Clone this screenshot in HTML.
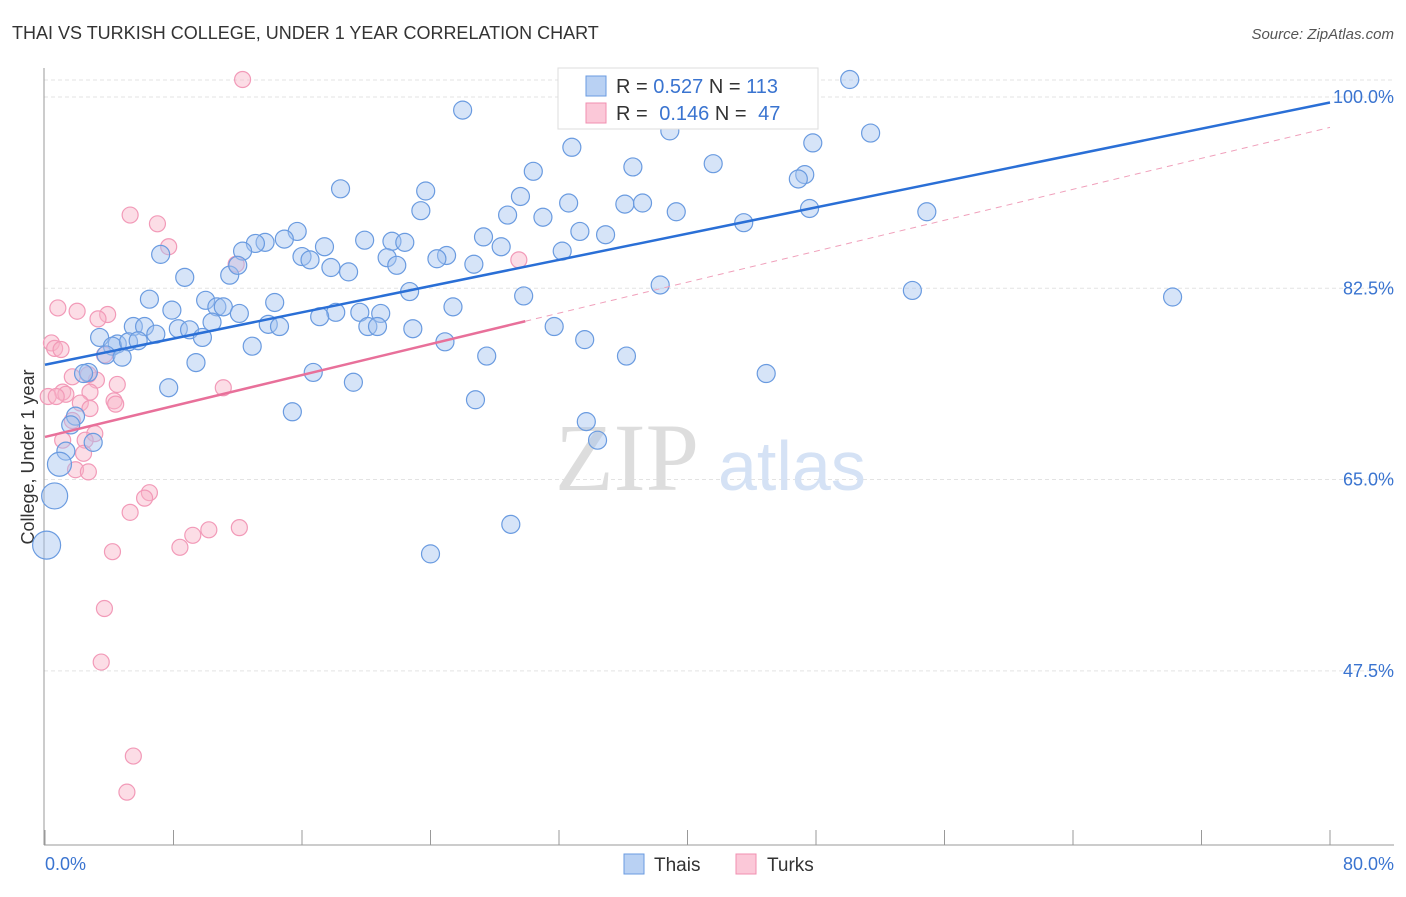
<!DOCTYPE html>
<html><head><meta charset="utf-8"><style>
body{margin:0;background:#fff;font-family:"Liberation Sans",sans-serif;}
</style></head><body>
<svg width="1406" height="892" xmlns="http://www.w3.org/2000/svg" style="font-family:'Liberation Sans',sans-serif">
<text x="12" y="39" font-size="18" fill="#333">THAI VS TURKISH COLLEGE, UNDER 1 YEAR CORRELATION CHART</text>
<text x="1394" y="39" font-size="15" fill="#555" font-style="italic" text-anchor="end">Source: ZipAtlas.com</text>
<g id="grid"></g>
<text x="555" y="490" font-size="96" fill="#ddd" font-family="Liberation Serif">ZIP</text>
<text x="718" y="490" font-size="70" fill="#d5e2f5">atlas</text>
<line x1="44" y1="68" x2="44" y2="845" stroke="#999"/>
<line x1="44" y1="845" x2="1394" y2="845" stroke="#999"/>
<g id="xticks"></g>
<g id="yticks"></g>
<text x="45" y="870" font-size="18" fill="#3a74d0">0.0%</text>
<text x="1394" y="870" font-size="18" fill="#3a74d0" text-anchor="end">80.0%</text>
<text transform="translate(34,457) rotate(-90)" font-size="18" fill="#333" text-anchor="middle">College, Under 1 year</text>
<g id="pink"></g>
<g id="blue"></g>
<g id="trends"></g>
<g>
<rect x="558" y="68" width="260" height="61" fill="#fff" stroke="#ddd"/>
<rect x="586" y="76" width="20" height="20" fill="#b9d1f3" stroke="#6a9be0"/>
<rect x="586" y="103" width="20" height="20" fill="#fbc8d8" stroke="#f08fb0"/>
<text x="616" y="93" font-size="20" fill="#333">R = <tspan fill="#3a74d0">0.527</tspan>   N = <tspan fill="#3a74d0">113</tspan></text>
<text x="616" y="120" font-size="20" fill="#333">R = <tspan fill="#3a74d0" dx="6">0.146</tspan>   N = <tspan fill="#3a74d0" dx="6">47</tspan></text>
</g>
<g>
<rect x="624" y="854" width="20" height="20" fill="#b9d1f3" stroke="#6a9be0"/>
<text x="654" y="871" font-size="19" fill="#333">Thais</text>
<rect x="736" y="854" width="20" height="20" fill="#fbc8d8" stroke="#f08fb0"/>
<text x="767" y="871" font-size="19" fill="#333">Turks</text>
</g>
</svg>
<script>
const yTicks=[100,82.5,65,47.5];
const yTickLabels=["100.0%","82.5%","65.0%","47.5%"];
const xTickVals=[0,8,16,24,32,40,48,56,64,72,80];
const blueX=[50.1,26.0,51.4,38.9,47.8,32.8,41.6,36.6,30.4,18.4,23.7,47.3,46.9,29.6,23.4,32.6,36.1,37.2,39.3,28.8,31.0,54.9,47.6,15.7,43.5,33.3,34.9,27.3,28.4,19.9,21.6,22.4,14.9,13.7,13.1,12.3,17.4,7.2,25.0,24.4,16.0,16.5,21.3,21.9,26.7,17.8,18.9,8.7,11.5,12.0,32.2,22.7,29.8,38.3,54.0,70.2,6.5,10.0,10.7,11.1,14.3,7.9,25.4,12.1,18.1,19.6,20.9,17.1,10.4,5.5,6.2,8.3,9.0,13.9,14.6,20.1,20.7,22.9,31.7,3.4,6.9,9.8,4.5,4.2,5.2,5.8,33.6,24.9,12.9,3.8,4.8,27.5,36.2,9.4,44.9,2.7,2.4,16.7,7.7,19.2,26.8,15.4,1.9,33.7,1.6,34.4,3.0,1.3,0.9,0.6,29.0,24.0,0.1];
const blueY=[101.6,98.8,96.7,96.9,95.8,95.4,93.9,93.6,93.2,91.6,91.4,92.9,92.5,90.9,89.6,90.3,90.2,90.3,89.5,89.2,89.0,89.5,89.8,87.7,88.5,87.7,87.4,87.2,86.3,86.9,86.8,86.7,87.0,86.7,86.6,85.9,86.3,85.6,85.5,85.2,85.4,85.1,85.3,84.6,84.7,84.4,84.0,83.5,83.7,84.6,85.9,82.2,81.8,82.8,82.3,81.7,81.5,81.4,80.8,80.8,81.2,80.5,80.8,80.2,80.3,80.3,80.2,79.9,79.4,79.0,79.0,78.8,78.7,79.2,79.0,79.0,79.0,78.8,79.0,78.0,78.3,78.0,77.4,77.2,77.6,77.7,77.8,77.6,77.2,76.4,76.2,76.3,76.3,75.7,74.7,74.8,74.7,74.8,73.4,73.9,72.3,71.2,70.8,70.3,70.0,68.6,68.4,67.6,66.4,63.5,60.9,58.2,59.0];
const blueSize=[9,9,9,9,9,9,9,9,9,9,9,9,9,9,9,9,9,9,9,9,9,9,9,9,9,9,9,9,9,9,9,9,9,9,9,9,9,9,9,9,9,9,9,9,9,9,9,9,9,9,9,9,9,9,9,9,9,9,9,9,9,9,9,9,9,9,9,9,9,9,9,9,9,9,9,9,9,9,9,9,9,9,9,9,9,9,9,9,9,9,9,9,9,9,9,9,9,9,9,9,9,9,9,9,9,9,9,9,12,13,9,9,14];
const pinkX=[12.3,5.3,7.0,7.7,11.9,29.5,0.8,2.0,3.9,3.3,0.4,0.6,1.0,3.7,1.7,3.2,2.7,4.5,1.1,2.8,1.3,0.2,0.7,11.1,4.3,4.4,2.2,2.8,1.7,3.1,2.5,1.1,2.4,1.9,2.7,6.5,6.2,5.3,12.1,10.2,9.2,8.4,4.2,3.7,3.5,5.5,5.1];
const pinkY=[101.6,89.2,88.4,86.3,84.7,85.1,80.7,80.4,80.1,79.7,77.5,77.0,76.9,76.4,74.4,74.1,74.6,73.7,73.0,73.0,72.8,72.6,72.6,73.4,72.2,71.9,72.0,71.5,70.4,69.2,68.6,68.6,67.4,65.9,65.7,63.8,63.3,62.0,60.6,60.4,59.9,58.8,58.4,53.2,48.3,39.7,36.4];
const blueTrend=[75.5,0.3];   // intercept, slope
const pinkTrend=[68.9,0.354];
const pinkSolidEnd=29.9;
const xs=v=>45+v*1285/80, ys=v=>97+(100-v)*10.93;
const NS="http://www.w3.org/2000/svg";
function mk(tag,attrs,parent){const e=document.createElementNS(NS,tag);for(const k in attrs)e.setAttribute(k,attrs[k]);document.getElementById(parent).appendChild(e);return e;}
yTicks.forEach((v,i)=>{
  const l=mk('line',{x1:44,x2:1394,y1:ys(v),y2:ys(v),stroke:'#e3e3e3','stroke-dasharray':'4,3'},'grid');
  
  
  const t=mk('text',{x:1394,y:ys(v)+6,'font-size':18,fill:'#3a74d0','text-anchor':'end'},'yticks');
  t.textContent=yTickLabels[i];
  
  
});
mk('line',{x1:44,x2:1394,y1:80,y2:80,stroke:'#e3e3e3','stroke-dasharray':'4,3'},'grid');
xTickVals.forEach(v=>{
  const l=mk('line',{x1:xs(v),x2:xs(v),y1:830,y2:845,stroke:'#999'},'xticks');
  
  
});
pinkX.forEach((x,i)=>{
  const c=mk('circle',{cx:xs(x),cy:ys(pinkY[i]),r:8,fill:'rgba(248,180,200,0.45)',stroke:'#f29ab8','stroke-width':1.2},'pink');
  
  
});
blueX.forEach((x,i)=>{
  const c=mk('circle',{cx:xs(x),cy:ys(blueY[i]),r:blueSize[i],fill:'rgba(164,196,240,0.45)',stroke:'#6a9be0','stroke-width':1.2},'blue');
  
  
});
let l=mk('line',{x1:xs(0),y1:ys(blueTrend[0]),x2:xs(80),y2:ys(blueTrend[0]+blueTrend[1]*80),stroke:'#2a6fd6','stroke-width':2.5},'trends');


l=mk('line',{x1:xs(0),y1:ys(pinkTrend[0]),x2:xs(pinkSolidEnd),y2:ys(pinkTrend[0]+pinkTrend[1]*pinkSolidEnd),stroke:'#e8709a','stroke-width':2.5},'trends');


l=mk('line',{x1:xs(pinkSolidEnd),y1:ys(pinkTrend[0]+pinkTrend[1]*pinkSolidEnd),x2:xs(80),y2:ys(pinkTrend[0]+pinkTrend[1]*80),stroke:'#f0a0bb','stroke-width':1,'stroke-dasharray':'6,5'},'trends');


</script>
</body></html>
